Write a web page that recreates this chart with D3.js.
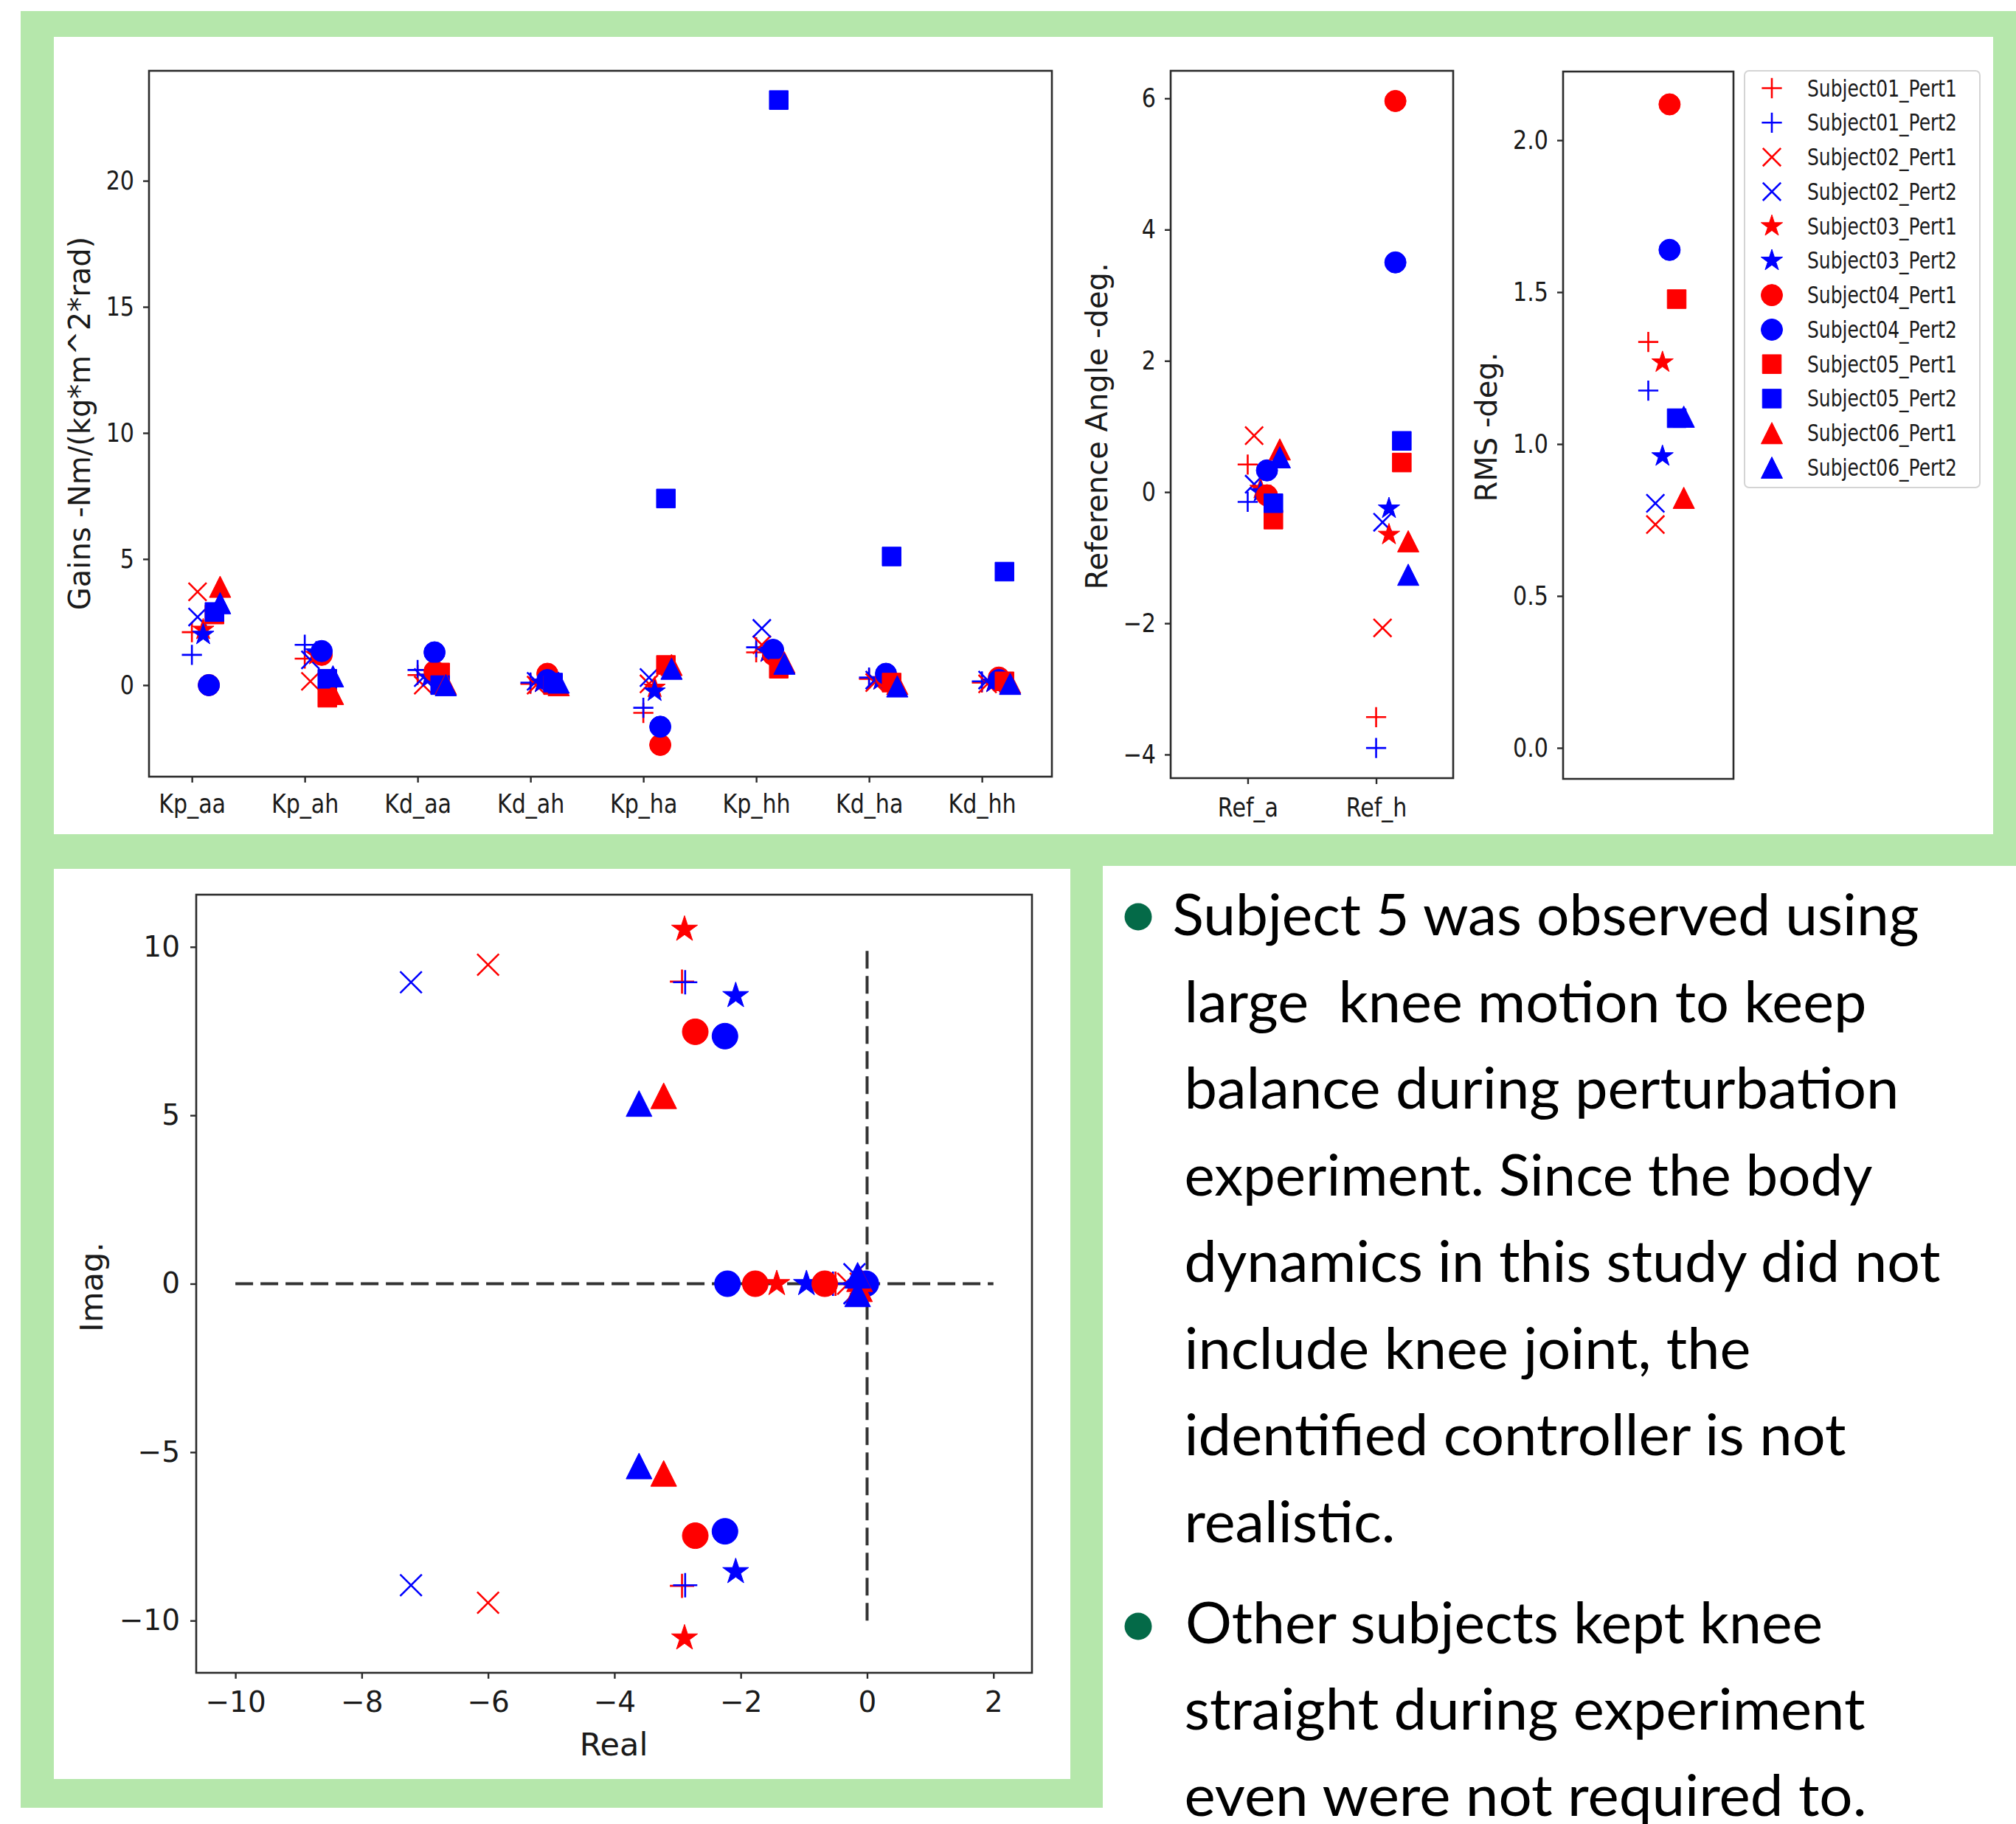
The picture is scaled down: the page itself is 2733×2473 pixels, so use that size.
<!DOCTYPE html>
<html lang="en">
<head>
<meta charset="UTF-8">
<title>Identified controller gains and poles</title>
<style>
  body { margin: 0; background: #fff; }
  svg text { font-family: "DejaVu Sans", sans-serif; fill: #1a1a1a; }
  .note { font-family: Lato, "Open Sans", sans-serif; fill: #000; white-space: pre; }
</style>
</head>
<body>
<div id="chart"></div>
<script src="https://d3js.org/d3.v7.min.js"></script>
<script>
// series order is always S01 P1, S01 P2, S02 P1, ... S06 P2
const subjects = ["Subject01", "Subject02", "Subject03", "Subject04", "Subject05", "Subject06"];
const perts = ["Pert1", "Pert2"];

const gainLabels = ["Kp_aa", "Kp_ah", "Kd_aa", "Kd_ah", "Kp_ha", "Kp_hh", "Kd_ha", "Kd_hh"];
const kpAa = [2.1, 1.2, 3.7, 2.7, 2.2, 2.0, 0.0, 0.0, 2.8, 2.9, 3.9, 3.25];
const kpAh = [1.05, 1.6, 0.15, 1.0, 1.2, 1.3, 1.2, 1.35, -0.5, 0.25, -0.35, 0.35];
const kdAa = [0.4, 0.6, 0.0, 0.3, 0.3, 0.3, 0.55, 1.3, 0.5, 0.0, 0.05, 0.0];
const kdAh = [0.05, 0.1, 0.0, 0.15, 0.1, 0.1, 0.45, 0.2, 0.0, 0.1, 0.0, 0.1];
const kpHa = [-1.1, -0.9, 0.05, 0.3, -0.1, -0.25, -2.37, -1.65, 0.8, 7.4, 0.8, 0.65];
const kpHh = [1.3, 1.5, 1.6, 2.25, 1.3, 1.3, 1.2, 1.4, 0.65, 23.2, 0.9, 0.85];
const kdHa = [0.25, 0.3, 0.1, 0.2, 0.2, 0.2, 0.3, 0.45, 0.1, 5.1, 0.05, -0.05];
const kdHh = [0.1, 0.15, 0.05, 0.2, 0.1, 0.1, 0.3, 0.2, 0.15, 4.5, 0.1, 0.05];

const refLabels = ["Ref_a", "Ref_h"];
const refA = [0.42, -0.15, 0.86, 0.12, 0.05, 0.0, -0.05, 0.33, -0.42, -0.17, 0.65, 0.53];
const refH = [-3.43, -3.9, -2.07, -0.46, -0.65, -0.25, 5.96, 3.5, 0.45, 0.78, -0.75, -1.26];

const rms = [1.336, 1.176, 0.735, 0.805, 1.269, 0.96, 2.118, 1.639, 1.477, 1.085, 0.823, 1.09];

// closed loop poles [real, imag]
const polesS1P1 = [[-2.93, 8.97], [-2.93, -8.97], [-0.5, 0], [-0.1, 0]];
const polesS1P2 = [[-2.88, 8.95], [-2.88, -8.95], [-0.54, 0], [-0.05, 0]];
const polesS2P1 = [[-6.0, 9.47], [-6.0, -9.47], [-0.3, 0], [-0.1, 0]];
const polesS2P2 = [[-7.22, 8.95], [-7.22, -8.95], [-0.2, 0.28], [-0.2, -0.28]];
const polesS3P1 = [[-2.89, 10.52], [-2.89, -10.52], [-1.43, 0], [-0.1, 0]];
const polesS3P2 = [[-2.08, 8.55], [-2.08, -8.55], [-0.96, 0], [-0.08, 0]];
const polesS4P1 = [[-2.72, 7.48], [-2.72, -7.48], [-1.77, 0], [-0.67, 0]];
const polesS4P2 = [[-2.25, 7.35], [-2.25, -7.35], [-2.21, 0], [-0.02, 0]];
const polesS5P1 = [];
const polesS5P2 = [];
const polesS6P1 = [[-3.22, 5.58], [-3.22, -5.63], [-0.12, 0.15], [-0.12, -0.15]];
const polesS6P2 = [[-3.61, 5.35], [-3.61, -5.41], [-0.15, 0.25], [-0.15, -0.3]];

const noteLines = [
    "Subject 5 was observed using",
    "large  knee motion to keep",
    "balance during perturbation",
    "experiment. Since the body",
    "dynamics in this study did not",
    "include knee joint, the",
    "identified controller is not",
    "realistic.",
    "Other subjects kept knee",
    "straight during experiment",
    "even were not required to."
];

// ---------------------------------------------------------------------------
const gainCols = [kpAa, kpAh, kdAa, kdAh, kpHa, kpHh, kdHa, kdHh];
const poleLists = [polesS1P1, polesS1P2, polesS2P1, polesS2P2, polesS3P1, polesS3P2,
                   polesS4P1, polesS4P2, polesS5P1, polesS5P2, polesS6P1, polesS6P2];

const series = [];
subjects.forEach((s, si) => perts.forEach((p, pi) => {
    const i = si * 2 + pi;
    series.push({
        name: s + "_" + p, subject: s, pert: p, offset: si * 0.05,
        gains: gainCols.map(c => c[i]),
        ref: [refA[i], refH[i]],
        rms: rms[i],
        poles: poleLists[i]
    });
}));

const color = d3.scaleOrdinal(perts, ["#ff0000", "#0000ff"]);
const shape = d3.scaleOrdinal(subjects, ["plus", "cross", "star", "circle", "square", "triangle"]);

// marker paths, size = nominal diameter
const markerTypes = {
    plus: { draw(c, s) { const r = s * 0.47; c.moveTo(-r, 0); c.lineTo(r, 0); c.moveTo(0, -r); c.lineTo(0, r); } },
    cross: { draw(c, s) { const r = s * 0.42; c.moveTo(-r, -r); c.lineTo(r, r); c.moveTo(-r, r); c.lineTo(r, -r); } },
    star: { draw(c, s) {
        const R = s * 0.53, r = R * 0.381966;
        for (let k = 0; k < 10; k++) {
            const a = -Math.PI / 2 + k * Math.PI / 5, rr = k % 2 ? r : R;
            k ? c.lineTo(rr * Math.cos(a), rr * Math.sin(a)) : c.moveTo(rr * Math.cos(a), rr * Math.sin(a));
        }
        c.closePath();
    } },
    circle: { draw(c, s) { const r = s / 2; c.moveTo(r, 0); c.arc(0, 0, r, 0, 2 * Math.PI); } },
    square: { draw(c, s) { const h = s * 0.44; c.rect(-h, -h, 2 * h, 2 * h); } },
    triangle: { draw(c, s) { const h = s / 2; c.moveTo(0, -h); c.lineTo(h, h); c.lineTo(-h, h); c.closePath(); } }
};
const isLine = t => t === "plus" || t === "cross";

function marker(sel, size) {
    sel.attr("d", d => d3.symbol().type(markerTypes[shape(d.subject)]).size(size)())
        .attr("fill", d => isLine(shape(d.subject)) ? "none" : color(d.pert))
        .attr("stroke", d => color(d.pert))
        .attr("stroke-width", d => isLine(shape(d.subject)) ? 2.6 : 1);
}

// squeeze text horizontally, the top figure is narrower than normal
function squeeze(sel, k) {
    sel.each(function () {
        const w = this.getComputedTextLength();
        d3.select(this).attr("textLength", w * k).attr("lengthAdjust", "spacingAndGlyphs");
    });
}

const W = 2733, H = 2473;
const svg = d3.select("#chart").append("svg").attr("width", W).attr("height", H);

// background panels
svg.append("rect").attr("width", W).attr("height", H).attr("fill", "#fff");
svg.append("rect").attr("x", 28).attr("y", 15).attr("width", W - 28).attr("height", 2451 - 15).attr("fill", "#b5e7ab");
svg.append("rect").attr("x", 73).attr("y", 50).attr("width", 2702 - 73).attr("height", 1131 - 50).attr("fill", "#fff");
svg.append("rect").attr("x", 73).attr("y", 1178).attr("width", 1451 - 73).attr("height", 2412 - 1178).attr("fill", "#fff");
svg.append("rect").attr("x", 1495).attr("y", 1174).attr("width", W - 1495).attr("height", H - 1174).attr("fill", "#fff");

function frame(g, x, y) {
    g.append("rect")
        .attr("x", x.range()[0]).attr("y", y.range()[1])
        .attr("width", x.range()[1] - x.range()[0]).attr("height", y.range()[0] - y.range()[1])
        .attr("fill", "none").attr("stroke", "#2b2b2b").attr("stroke-width", 2.6);
}

function axes(g, x, y, o) {
    if (o.xAxis) {
        const ax = g.append("g").attr("transform", `translate(0,${y.range()[0]})`)
            .call(o.xAxis.tickSize(8).tickPadding(o.xPad));
        ax.select(".domain").remove();
        ax.selectAll("line").attr("stroke", "#2b2b2b").attr("stroke-width", 2.4);
        ax.selectAll("text").attr("font-size", o.font).attr("font-family", "DejaVu Sans").attr("fill", "#1a1a1a");
        if (o.squeeze) squeeze(ax.selectAll("text"), o.squeeze);
    }
    const ay = g.append("g").attr("transform", `translate(${x.range()[0]},0)`)
        .call(o.yAxis.tickSize(8).tickPadding(o.yPad));
    ay.select(".domain").remove();
    ay.selectAll("line").attr("stroke", "#2b2b2b").attr("stroke-width", 2.4);
    ay.selectAll("text").attr("font-size", o.font).attr("font-family", "DejaVu Sans").attr("fill", "#1a1a1a");
    if (o.squeeze) squeeze(ay.selectAll("text"), o.squeeze);
    frame(g, x, y);
}

function yLabel(g, text, cx, cy, size) {
    g.append("text").attr("transform", `translate(${cx},${cy}) rotate(-90)`)
        .attr("text-anchor", "middle").attr("dominant-baseline", "central")
        .attr("font-size", size).text(text);
}

const MS = 29;

// ---- gains
{
    const g = svg.append("g");
    const x = d3.scaleLinear([-0.38, 7.62], [202, 1426]);
    const y = d3.scaleLinear([-3.63, 24.36], [1053, 96]);
    axes(g, x, y, {
        xAxis: d3.axisBottom(x).tickValues(d3.range(gainLabels.length)).tickFormat(i => gainLabels[i]),
        yAxis: d3.axisLeft(y).tickValues([0, 5, 10, 15, 20]).tickFormat(d3.format("d")),
        font: 35, xPad: 16, yPad: 12, squeeze: 0.86
    });
    yLabel(g, "Gains -Nm/(kg*m^2*rad)", 108, 574, 40);
    series.forEach(s => {
        g.selectAll(null).data(s.gains.map((v, i) => ({ ...s, i, v }))).join("path")
            .attr("transform", d => `translate(${x(d.i + d.offset)},${y(d.v)})`)
            .call(marker, MS);
    });
}

// ---- reference angles
{
    const g = svg.append("g");
    const x = d3.scaleLinear([-0.6, 1.6], [1587, 1970]);
    const y = d3.scaleLinear([-4.36, 6.42], [1055, 96]);
    axes(g, x, y, {
        xAxis: d3.axisBottom(x).tickValues([0, 1]).tickFormat(i => refLabels[i]),
        yAxis: d3.axisLeft(y).tickValues([-4, -2, 0, 2, 4, 6]).tickFormat(d3.format("d")),
        font: 35, xPad: 19, yPad: 12, squeeze: 0.86
    });
    yLabel(g, "Reference Angle -deg.", 1487, 578, 40);
    series.forEach(s => {
        g.selectAll(null).data(s.ref.map((v, i) => ({ ...s, i, v }))).join("path")
            .attr("transform", d => `translate(${x(d.i + d.offset)},${y(d.v)})`)
            .call(marker, MS);
    });
}

// ---- RMS
{
    const g = svg.append("g");
    const x = d3.scaleLinear([-0.6, 0.6], [2119, 2350]);
    const y = d3.scaleLinear([-0.102, 2.226], [1056, 97]);
    axes(g, x, y, {
        yAxis: d3.axisLeft(y).tickValues([0, 0.5, 1, 1.5, 2]).tickFormat(d3.format(".1f")),
        font: 35, yPad: 12, squeeze: 0.86
    });
    yLabel(g, "RMS -deg.", 2015, 579, 40);
    g.selectAll(null).data(series).join("path")
        .attr("transform", d => `translate(${x(d.offset)},${y(d.rms)})`)
        .call(marker, MS);

    // legend
    const lg = svg.append("g");
    lg.append("rect").attr("x", 2365).attr("y", 96).attr("width", 2684 - 2365).attr("height", 661 - 96)
        .attr("rx", 6).attr("fill", "#fff").attr("stroke", "#d4d4d4").attr("stroke-width", 2);
    const ly = d3.scalePoint(series.map(d => d.name), [119.5, 634]);
    const row = lg.selectAll("g.row").data(series).join("g").attr("class", "row")
        .attr("transform", d => `translate(0,${ly(d.name)})`);
    row.append("path").attr("transform", "translate(2402,0)").call(marker, MS);
    row.append("text").attr("x", 2450).attr("dominant-baseline", "central")
        .attr("font-size", 32).text(d => d.name);
    squeeze(row.selectAll("text"), 0.78);
}

// ---- poles
{
    const g = svg.append("g");
    const x = d3.scaleLinear([-10.62, 2.61], [266, 1399]);
    const y = d3.scaleLinear([-11.55, 11.55], [2268, 1213]);
    axes(g, x, y, {
        xAxis: d3.axisBottom(x).tickValues(d3.range(-10, 3, 2)).tickFormat(d3.format("d")),
        yAxis: d3.axisLeft(y).tickValues([-10, -5, 0, 5, 10]).tickFormat(d3.format("d")),
        font: 39, xPad: 17, yPad: 14
    });
    g.append("text").attr("x", 832).attr("y", 2380).attr("text-anchor", "middle")
        .attr("font-size", 43).text("Real");
    yLabel(g, "Imag.", 124, 1745, 43);

    const dash = d3.line().x(d => x(d[0])).y(d => y(d[1]));
    g.append("path").attr("d", dash([[-10, 0], [2, 0]]))
        .attr("stroke", "#333").attr("stroke-width", 4).attr("stroke-dasharray", "24 10").attr("fill", "none");
    g.append("path").attr("d", dash([[0, -10], [0, 10]]))
        .attr("stroke", "#333").attr("stroke-width", 4).attr("stroke-dasharray", "24 10").attr("fill", "none");

    series.forEach(s => {
        g.selectAll(null).data(s.poles.map(p => ({ ...s, p }))).join("path")
            .attr("transform", d => `translate(${x(d.p[0])},${y(d.p[1])})`)
            .call(marker, 35);
    });
}

// ---- notes
{
    const g = svg.append("g");
    const xs = [1589.5, 1605.5, 1605.5, 1605.5, 1605.5, 1605.5, 1605.5, 1605.5, 1607, 1605.5, 1605.5];
    const widths = [1012, 925, 969, 933, 1025, 768, 897, 286, 864, 923, 925];
    const base = d3.scaleLinear([0, 7], [1268, 2091]);
    const base2 = d3.scaleLinear([8, 10], [2228, 2462]);
    g.selectAll("text").data(noteLines).join("text")
        .attr("class", "note")
        .attr("x", (d, i) => xs[i])
        .attr("y", (d, i) => i < 8 ? base(i) : base2(i))
        .attr("font-size", 78)
        .attr("textLength", (d, i) => widths[i])
        .attr("lengthAdjust", "spacingAndGlyphs")
        .text(d => d);
    g.selectAll("circle").data([1243, 2205]).join("circle")
        .attr("cx", 1543).attr("cy", d => d).attr("r", 18.5).attr("fill", "#046a48");
}
</script>
</body>
</html>
